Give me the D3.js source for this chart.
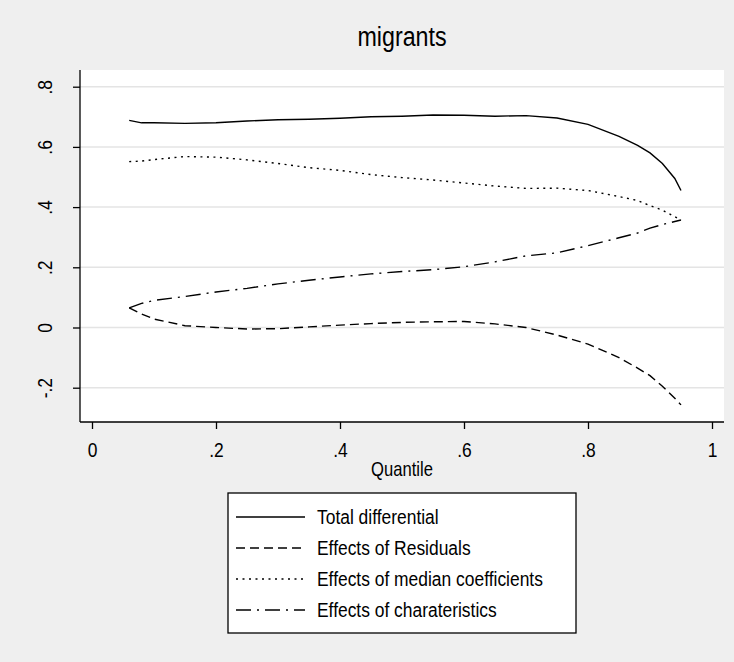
<!DOCTYPE html>
<html>
<head>
<meta charset="utf-8">
<script src="https://cdn.jsdelivr.net/npm/d3@7"></script>
<style>
  html, body { margin: 0; padding: 0; background: #efefef; }
  svg { display: block; }
</style>
</head>
<body>
<div id="chart"></div>
<script>
// DATA
var quantiles = [0.06, 0.08, 0.10, 0.15, 0.20, 0.25, 0.30, 0.35, 0.40, 0.45, 0.50, 0.55,
                 0.60, 0.65, 0.70, 0.75, 0.80, 0.85, 0.88, 0.90, 0.92, 0.94, 0.95];
var totalDiff = [0.688, 0.680, 0.680, 0.678, 0.680, 0.686, 0.690, 0.692, 0.695, 0.700, 0.702, 0.706,
                 0.705, 0.702, 0.704, 0.696, 0.675, 0.635, 0.605, 0.580, 0.545, 0.495, 0.455];
var residuals = [0.065, 0.045, 0.028, 0.006, 0.000, -0.005, -0.004, 0.002, 0.008, 0.013, 0.017, 0.019,
                 0.020, 0.012, 0.000, -0.025, -0.055, -0.100, -0.135, -0.160, -0.195, -0.235, -0.257];
var medianCoef = [0.551, 0.553, 0.558, 0.568, 0.566, 0.557, 0.545, 0.531, 0.522, 0.508, 0.498, 0.490,
                  0.480, 0.470, 0.462, 0.463, 0.455, 0.435, 0.422, 0.405, 0.390, 0.368, 0.357];
var characteristics = [0.065, 0.080, 0.090, 0.103, 0.118, 0.130, 0.145, 0.157, 0.168, 0.178, 0.186, 0.192,
                       0.202, 0.218, 0.238, 0.248, 0.272, 0.298, 0.314, 0.330, 0.342, 0.352, 0.357];
var seriesNames = ['Total differential', 'Effects of Residuals', 'Effects of median coefficients', 'Effects of charateristics'];
var xTicks = [0, 0.2, 0.4, 0.6, 0.8, 1];
var yTicks = [-0.2, 0, 0.2, 0.4, 0.6, 0.8];
var xTickLabels = ['0', '.2', '.4', '.6', '.8', '1'];
var yTickLabels = ['-.2', '0', '.2', '.4', '.6', '.8'];

// SETTINGS
var settings = {
   width: 734,
   height: 662,
   plot: { left: 80, right: 724, top: 70, bottom: 422 },
   font: '"Liberation Sans", Arial, sans-serif',
   narrow: 'scale(0.83,1)',
   dashes: ['none', '9,5', '2,4.5', '15,6,2,6']
}

var seriesValues = [totalDiff, residuals, medianCoef, characteristics];

// GENERATE CANVAS
var canvas = d3.select('#chart').append('svg')
   .attr('width', settings.width)
   .attr('height', settings.height)
   .style('font-family', settings.font)

canvas.append('rect')
   .attr('width', settings.width)
   .attr('height', settings.height)
   .attr('fill', '#efefef')

// SCALES
var xScale = d3.scaleLinear().domain([0, 1]).range([92, 712])
var yScale = d3.scaleLinear().domain([0, 0.8]).range([327.5, 86.7])

// PLOT REGION
var p = settings.plot;
canvas.append('rect')
   .attr('x', p.left)
   .attr('y', p.top)
   .attr('width', p.right - p.left)
   .attr('height', p.bottom - p.top)
   .attr('fill', '#ffffff')

// GRIDLINES
canvas.append('g').selectAll('line')
   .data(yTicks)
      .enter().append('line')
         .attr('x1', p.left)
         .attr('x2', p.right)
         .attr('y1', (d) => { return yScale(d) })
         .attr('y2', (d) => { return yScale(d) })
         .attr('stroke', '#e4e4e4')
         .attr('stroke-width', 1.5)

// TITLE (NARROWED TO MIMIC STATA FONT)
canvas.append('text')
   .attr('transform', 'translate(' + ((p.left + p.right) / 2) + ',46) ' + settings.narrow)
   .attr('text-anchor', 'middle')
   .attr('font-size', 28)
   .text('migrants')

// Y AXIS
var yAxis = canvas.append('g')
   .attr('transform', 'translate(' + p.left + ',0)')
   .call(d3.axisLeft(yScale).tickValues(yTicks).tickSize(7)
      .tickFormat((d, i) => { return yTickLabels[i] }))
yAxis.select('.domain').attr('d', 'M0,' + p.top + 'V' + p.bottom).attr('stroke', '#000').attr('stroke-width', 1.3)
yAxis.selectAll('.tick line').attr('stroke', '#000').attr('stroke-width', 1.3)
yAxis.selectAll('.tick text')
   .attr('font-size', 21)
   .attr('font-family', settings.font)
   .attr('fill', '#000')
   .attr('text-anchor', 'middle')
   .attr('dy', null)
   .attr('x', 0)
   .attr('y', 0)
   .attr('transform', 'translate(-28,0) rotate(-90) ' + settings.narrow)

// X AXIS
var xAxis = canvas.append('g')
   .attr('transform', 'translate(0,' + p.bottom + ')')
   .call(d3.axisBottom(xScale).tickValues(xTicks).tickSize(7).tickPadding(13)
      .tickFormat((d, i) => { return xTickLabels[i] }))
xAxis.select('.domain').attr('d', 'M' + p.left + ',0H' + p.right).attr('stroke', '#000').attr('stroke-width', 1.3)
xAxis.selectAll('.tick line').attr('stroke', '#000').attr('stroke-width', 1.3)
xAxis.selectAll('.tick text')
   .attr('font-size', 21)
   .attr('font-family', settings.font)
   .attr('fill', '#000')
   .attr('transform', settings.narrow)

canvas.append('text')
   .attr('transform', 'translate(' + ((p.left + p.right) / 2) + ',476) ' + settings.narrow)
   .attr('text-anchor', 'middle')
   .attr('font-size', 20)
   .text('Quantile')

// GENERATE LINES
var pathify = d3.line()
   .x((d, i) => { return xScale(quantiles[i]) })
   .y((d) => { return yScale(d) })

canvas.append('g').selectAll('path')
   .data(seriesValues)
      .enter().append('path')
         .attr('fill', 'none')
         .attr('stroke', '#000')
         .attr('stroke-width', 1.4)
         .attr('stroke-dasharray', (d, i) => { return settings.dashes[i] })
         .attr('d', (d) => { return pathify(d) })

// LEGEND
var legend = { left: 228, right: 576, top: 493, bottom: 633, rowGap: 31 };
canvas.append('rect')
   .attr('x', legend.left)
   .attr('y', legend.top)
   .attr('width', legend.right - legend.left)
   .attr('height', legend.bottom - legend.top)
   .attr('fill', '#ffffff')
   .attr('stroke', '#000')
   .attr('stroke-width', 1.3)

var rows = canvas.append('g').selectAll('g')
   .data(seriesNames)
      .enter().append('g')
         .attr('transform', (d, i) => { return 'translate(0,' + (legend.top + 24 + i * legend.rowGap) + ')' })

rows.append('line')
   .attr('x1', legend.left + 8)
   .attr('x2', legend.left + 77)
   .attr('stroke', '#000')
   .attr('stroke-width', 1.4)
   .attr('stroke-dasharray', (d, i) => { return settings.dashes[i] })

rows.append('text')
   .attr('transform', 'translate(' + (legend.left + 89) + ',0) ' + settings.narrow)
   .attr('dy', '0.35em')
   .attr('font-size', 21)
   .text((d) => { return d })
</script>
</body>
</html>
